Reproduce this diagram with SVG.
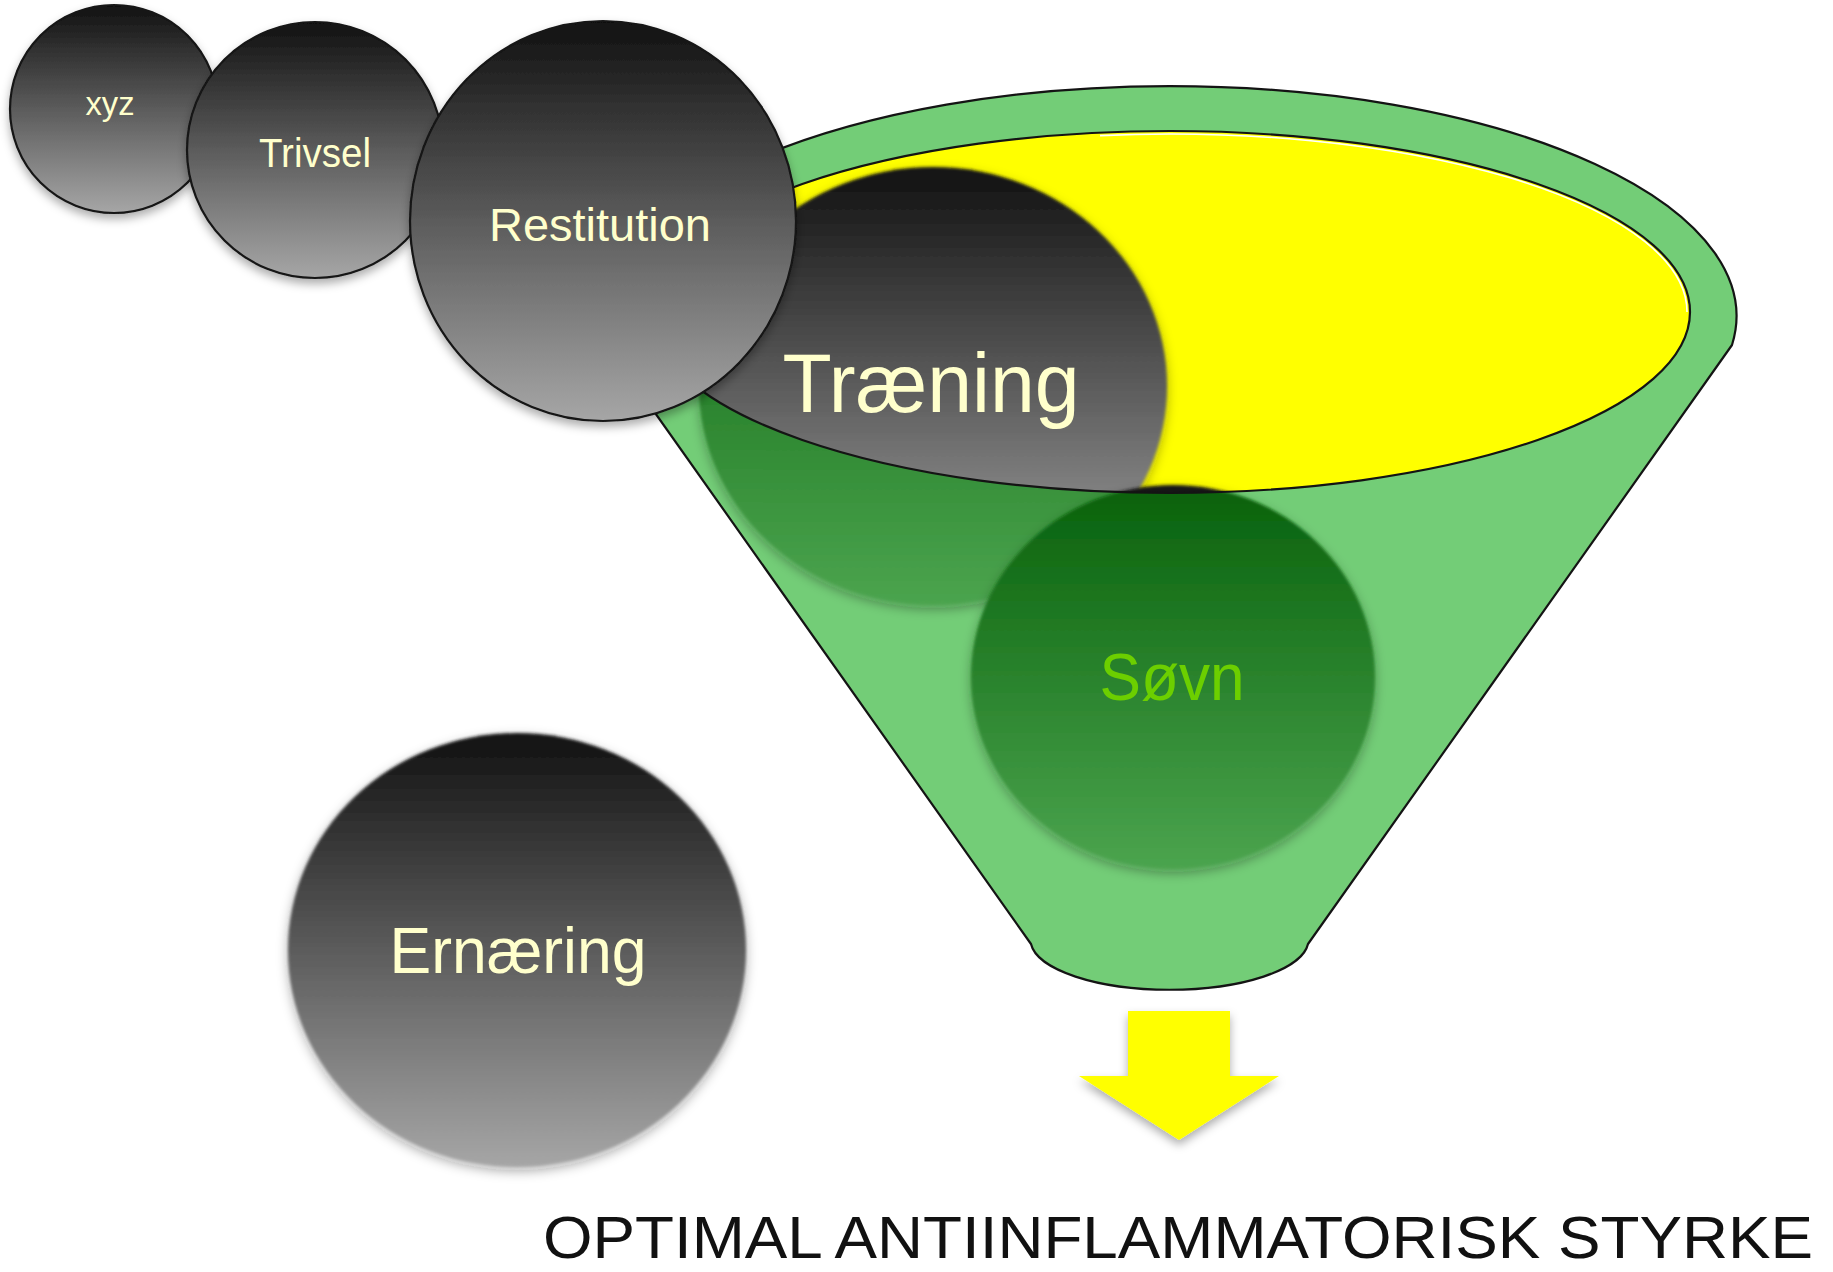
<svg xmlns="http://www.w3.org/2000/svg" width="1833" height="1272" viewBox="0 0 1833 1272">
  <defs>
    <style>
      text { font-family: "Liberation Sans", Arial, Helvetica, sans-serif; text-anchor: middle; }
      .lbl { fill: #ffffcc; }
      .ring { stroke: #141414; stroke-width: 2.2; }
      .edge { fill: none; stroke: #141414; stroke-width: 2.2; stroke-linejoin: round; }
    </style>
    <!-- dark-to-light fill of the bubbles -->
    <linearGradient id="gray" x1="0" y1="0" x2="0" y2="1">
      <stop offset="0" stop-color="#111111"/>
      <stop offset="1" stop-color="#a6a6a6"/>
    </linearGradient>
    <!-- the same bubble seen through the green funnel wall -->
    <linearGradient id="tint" x1="0" y1="0" x2="0" y2="1">
      <stop offset="0" stop-color="#08610b"/>
      <stop offset="1" stop-color="#4ba44e"/>
    </linearGradient>
    <filter id="shadow" x="-20%" y="-20%" width="140%" height="150%">
      <feDropShadow dx="0" dy="5" stdDeviation="5" flood-color="#000" flood-opacity="0.32"/>
    </filter>
    <filter id="soft" x="-20%" y="-20%" width="140%" height="150%">
      <feGaussianBlur in="SourceAlpha" stdDeviation="6" result="b"/>
      <feOffset in="b" dy="4" result="o"/>
      <feFlood flood-color="#000" flood-opacity="0.35"/>
      <feComposite in2="o" operator="in" result="sh"/>
      <feGaussianBlur in="SourceGraphic" stdDeviation="1.4" result="s"/>
      <feMerge><feMergeNode in="sh"/><feMergeNode in="s"/></feMerge>
    </filter>
    <!-- open mouth of the funnel -->
    <clipPath id="mouth">
      <ellipse cx="1170" cy="312" rx="520" ry="181"/>
    </clipPath>
    <!-- funnel body without its mouth -->
    <clipPath id="wall">
      <path clip-rule="evenodd" d="M607 345 A567 230 0 1 1 1732 345 L1308 944 A139 50 0 0 1 1031 944 Z M650 312 A520 181 0 1 0 1690 312 A520 181 0 1 0 650 312 Z"/>
    </clipPath>
  </defs>

  <rect width="1833" height="1272" fill="#ffffff"/>

  <!-- funnel body and yellow opening -->
  <g id="node-funnel">
    <path d="M607 345 A567 230 0 1 1 1732 345 L1308 944 A139 50 0 0 1 1031 944 Z" fill="#73cd77"/>
    <ellipse cx="1170" cy="312" rx="520" ry="181" fill="#ffff00"/>
  </g>

  <g id="node-traening">
    <g clip-path="url(#mouth)">
      <ellipse cx="933" cy="386" rx="234" ry="219" fill="url(#gray)" filter="url(#soft)"/>
    </g>
    <g clip-path="url(#wall)">
      <ellipse cx="933" cy="386" rx="234" ry="219" fill="url(#tint)" filter="url(#soft)"/>
    </g>
    <text class="lbl" x="931" y="412" font-size="84" textLength="297" lengthAdjust="spacingAndGlyphs">Træning</text>
  </g>

  <g id="node-sovn">
    <g clip-path="url(#mouth)">
      <ellipse cx="1173" cy="677" rx="202" ry="192" fill="url(#gray)" filter="url(#soft)"/>
    </g>
    <g clip-path="url(#wall)">
      <ellipse cx="1173" cy="677" rx="202" ry="192" fill="url(#tint)" filter="url(#soft)"/>
    </g>
    <text x="1172" y="700" font-size="66" fill="#6ccf00" textLength="145" lengthAdjust="spacingAndGlyphs">Søvn</text>
  </g>

  <!-- funnel outlines drawn over the bubbles inside it -->
  <g id="node-funnel-outline">
    <path class="edge" d="M607 345 A567 230 0 1 1 1732 345 L1308 944 A139 50 0 0 1 1031 944 Z"/>
    <path d="M1100 135.6 A517 178 0 0 1 1687 312" fill="none" stroke="#ffffff" stroke-width="1.6"/>
    <ellipse class="edge" cx="1170" cy="312" rx="520" ry="181" stroke-width="2.5"/>
  </g>

  <g id="node-xyz">
    <ellipse class="ring" cx="114" cy="109" rx="104" ry="104" fill="url(#gray)" filter="url(#shadow)"/>
    <text class="lbl" x="110" y="115" font-size="33" textLength="49" lengthAdjust="spacingAndGlyphs">xyz</text>
  </g>

  <g id="node-trivsel">
    <ellipse class="ring" cx="315" cy="150" rx="128" ry="128" fill="url(#gray)" filter="url(#shadow)"/>
    <text class="lbl" x="315" y="167" font-size="40" textLength="112" lengthAdjust="spacingAndGlyphs">Trivsel</text>
  </g>

  <g id="node-restitution">
    <ellipse class="ring" cx="603" cy="221" rx="193" ry="200" fill="url(#gray)" filter="url(#shadow)"/>
    <text class="lbl" x="600" y="241" font-size="47" textLength="222" lengthAdjust="spacingAndGlyphs">Restitution</text>
  </g>

  <g id="node-ernaering">
    <ellipse cx="517" cy="950" rx="229" ry="217" fill="url(#gray)" filter="url(#soft)"/>
    <text class="lbl" x="518" y="973" font-size="64" textLength="257" lengthAdjust="spacingAndGlyphs">Ernæring</text>
  </g>

  <!-- outflow arrow below the funnel -->
  <g id="connectors">
    <polygon points="1128,1011 1230,1011 1230,1076 1279,1076 1179,1140 1079,1076 1128,1076" fill="#ffff00" filter="url(#shadow)"/>
  </g>

  <g id="node-result">
    <text x="543" y="1258" font-size="60" fill="#111111" style="text-anchor:start" textLength="1270" lengthAdjust="spacingAndGlyphs">OPTIMAL ANTIINFLAMMATORISK STYRKE</text>
  </g>
</svg>
